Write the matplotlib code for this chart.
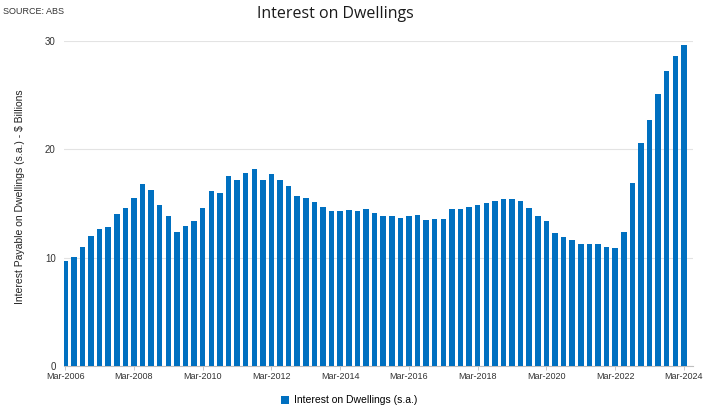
import numpy as np
import matplotlib.pyplot as plt

# Quarterly data, Mar-2006 .. Mar-2024
quarters = []
for yr in range(2006, 2025):
    for mon in ['Mar', 'Jun', 'Sep', 'Dec']:
        quarters.append(f'{mon}-{yr}')
quarters = quarters[:73]

interest = [9.7, 10.1, 11.0, 12.0, 12.6, 12.8, 14.05, 14.6, 15.5, 16.8,
            16.2, 14.9, 13.8, 12.35, 12.9, 13.35, 14.6, 16.15, 15.95, 17.5,
            17.15, 17.85, 18.2, 17.2, 17.7, 17.15, 16.6, 15.7, 15.5, 15.1,
            14.65, 14.35, 14.35, 14.4, 14.35, 14.45, 14.15, 13.8, 13.8, 13.7,
            13.8, 13.95, 13.5, 13.55, 13.55, 14.5, 14.5, 14.7, 14.9, 15.05,
            15.2, 15.4, 15.45, 15.2, 14.55, 13.8, 13.35, 12.25, 11.9, 11.6,
            11.3, 11.25, 11.25, 11.0, 10.9, 12.35, 16.85, 20.55, 22.75, 25.15,
            27.2, 28.6, 29.65]

tick_idx = list(range(0, 73, 8))
tick_labels = [quarters[i] for i in tick_idx]

plt.rcParams['font.family'] = ['Liberation Sans', 'DejaVu Sans']

fig = plt.figure(figsize=(7.1, 4.13), dpi=100)
ax = fig.add_axes([0.090, 0.1138, 0.886, 0.787])

x = np.arange(len(interest))
ax.bar(x, interest, width=0.64, color='#0070C0', zorder=3,
       label='Interest on Dwellings (s.a.)')

ax.set_xlim(-0.15, 73.05)
ax.set_ylim(0, 30)
ax.set_yticks([0, 10, 20, 30])
ax.tick_params(axis='y', length=0, labelsize=7, colors='#333333', pad=6)
ax.set_xticks(tick_idx)
ax.set_xticklabels(tick_labels)
ax.tick_params(axis='x', length=3, width=0.6, color='#bfbfbf', labelsize=6.5,
               colors='#333333', pad=1)
ax.grid(axis='y', color='#e3e3e3', linewidth=0.8, zorder=0)
for s in ['top', 'right', 'left']:
    ax.spines[s].set_visible(False)
ax.spines['bottom'].set_color('#bfbfbf')
ax.spines['bottom'].set_linewidth(0.8)

ax.set_ylabel('Interest Payable on Dwellings (s.a.) - $ Billions',
              fontsize=7.5, color='#222222', labelpad=6)
ax.yaxis.set_label_coords(-0.062, 0.52)

fig.text(0.473, 0.965, 'Interest on Dwellings', ha='center', va='center',
         fontsize=11.5, fontfamily='Open Sans', color='#1a1a1a')
fig.text(0.004, 0.972, 'SOURCE: ABS', ha='left', va='center', fontsize=6.5,
         color='#333333')

fig.legend(loc='center', bbox_to_anchor=(0.492, 0.031), frameon=False,
           fontsize=7.5, handlelength=0.8, handleheight=0.8,
           handletextpad=0.5, borderpad=0)

fig.savefig('out.png', dpi=100)
